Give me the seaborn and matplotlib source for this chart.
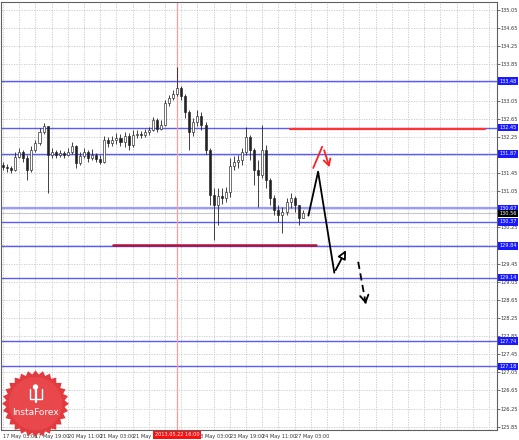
import numpy as np
import matplotlib
matplotlib.use("Agg")
import matplotlib.pyplot as plt
import matplotlib.transforms as mtransforms
import seaborn as sns

# --- candles (2h each, from 17 May 03:00) ---
opens_first = 131.63
closes = [131.59, 131.56, 131.52, 131.81, 131.92, 131.79, 131.52, 131.96, 132.12, 132.36,
          132.49, 131.85, 131.92, 131.85, 131.90, 131.85, 131.92, 132.05, 131.67, 131.83,
          131.92, 131.79, 131.85, 131.76, 131.70, 132.18, 132.12, 132.18, 132.23, 132.14,
          132.27, 132.07, 132.29, 132.31, 132.29, 132.36, 132.40, 132.62, 132.42, 132.51,
          133.00, 133.11, 133.20, 133.33, 133.15, 132.80, 132.36, 132.58, 132.71, 132.51,
          131.96, 130.97, 130.75, 130.95, 130.90, 131.04, 131.61, 131.70, 131.74, 131.92,
          132.25, 131.96, 131.52, 131.41, 131.96, 131.30, 130.90, 130.64, 130.53, 130.59,
          130.81, 130.90, 130.75, 130.46, 130.57]
highs = [131.70, 131.65, 131.61, 131.92, 132.01, 131.96, 131.85, 132.05, 132.18, 132.45,
         132.56, 132.49, 132.01, 131.96, 131.96, 131.94, 132.01, 132.14, 132.07, 131.92,
         132.01, 131.96, 131.99, 131.90, 131.85, 132.27, 132.25, 132.27, 132.34, 132.31,
         132.36, 132.34, 132.40, 132.40, 132.38, 132.42, 132.47, 132.69, 132.67, 132.62,
         133.06, 133.17, 133.29, 133.79, 133.37, 133.20, 132.84, 132.67, 132.84, 132.80,
         132.58, 132.01, 131.12, 131.12, 131.12, 131.15, 131.79, 131.83, 131.85, 132.01,
         132.47, 132.29, 132.01, 131.74, 132.51, 132.07, 131.34, 130.97, 130.75, 130.70,
         130.90, 131.01, 130.95, 130.75, 130.64]
lows = [131.52, 131.48, 131.45, 131.50, 131.79, 131.70, 131.30, 131.48, 131.92, 132.07,
        132.31, 131.01, 131.79, 131.79, 131.81, 131.79, 131.83, 131.87, 131.56, 131.63,
        131.79, 131.70, 131.74, 131.70, 131.65, 131.67, 132.03, 132.05, 132.09, 132.05,
        132.03, 131.96, 132.03, 132.23, 132.23, 132.25, 132.29, 132.38, 132.36, 132.40,
        132.49, 132.93, 133.06, 133.15, 133.06, 132.67, 131.96, 132.27, 132.49, 132.40,
        131.87, 130.75, 129.98, 130.31, 130.77, 130.81, 130.92, 131.52, 131.56, 131.63,
        131.85, 131.74, 131.19, 130.70, 131.34, 131.12, 130.75, 130.53, 130.37, 130.13,
        130.53, 130.68, 130.59, 130.31, 130.46]

# --- levels ---
blue_levels = [133.48, 132.45, 131.87, 130.67, 130.37, 129.84, 129.14, 127.74, 127.18]
current_price = 130.56
red_level = 132.43
red_level_span = [70.9, 119.0]
purple_level = 129.86
purple_level_span = [27.1, 77.3]
event_time = 43.0
event_label = "2013.05.22 16:00"

# --- forecast arrows ---
path_t = [75.4, 77.8, 81.8, 85.0]
path_p = [130.51, 131.48, 129.25, 129.80]
dash_t = [87.7, 89.7]
dash_p = [129.49, 128.50]
red_t = [76.6, 78.8, 79.1, 80.8]
red_p = [131.56, 132.03, 132.01, 131.52]

# --- axes ---
ytick_vals = [135.05, 134.65, 134.25, 133.85, 133.45, 133.05, 132.65, 132.25, 131.85,
              131.45, 131.05, 130.65, 130.25, 129.85, 129.45, 129.05, 128.65, 128.25,
              127.85, 127.45, 127.05, 126.65, 126.25, 125.85]
xtick_pos = [0, 8, 16, 24, 32, 48, 56, 64, 72]
xtick_labels = ["17 May 03:00", "17 May 19:00", "20 May 11:00", "21 May 03:00",
                "21 May 19:00", "23 May 03:00", "23 May 19:00", "24 May 11:00",
                "27 May 03:00"]

FS = 3.6

sns.set_style("white")
plt.rcParams["font.family"] = ["DejaVu Sans"]

fig = plt.figure(figsize=(5.19, 4.40), dpi=100)
ax = fig.add_axes([0.002, 0.023, 0.955, 0.973])
ax.set_xlim(-0.5, 121.9)
ax.set_ylim(125.78, 135.23)

# grid
for gx in range(0, 124, 4):
    ax.axvline(gx, color="#c8c8c8", lw=0.6, ls=(0, (1.5, 1.5)), zorder=0)
for gy in ytick_vals:
    ax.axhline(gy, color="#c8c8c8", lw=0.6, ls=(0, (1.5, 1.5)), zorder=0)

# levels
for lv in blue_levels:
    lw = 1.6 if lv == 130.67 else 1.0
    col = "#9a9aff" if lv == 130.67 else "#5a5aff"
    ax.axhline(lv, color=col, lw=lw, zorder=1)
ax.axhline(current_price, color="#c8c8c8", lw=0.8, zorder=1)
ax.plot(red_level_span, [red_level, red_level], color="#ff3333", lw=1.6, zorder=2)
ax.plot(purple_level_span, [purple_level, purple_level], color="#b0103a", lw=1.8, zorder=2)
ax.axvline(event_time, color="#ff9a9a", lw=0.9, zorder=1)

# candles
opens = [opens_first] + closes[:-1]
idx = np.arange(len(closes))
ax.vlines(idx, lows, highs, color="#222222", lw=0.6, zorder=3)
for i, (o, c) in enumerate(zip(opens, closes)):
    up = c >= o
    ax.bar(i, max(abs(c - o), 0.01), bottom=min(o, c), width=0.5,
           color="white" if up else "#222222", edgecolor="#222222", lw=0.45, zorder=4)

# forecast path
sns.lineplot(x=path_t[:3], y=path_p[:3], sort=False, color="black", lw=1.3, ax=ax, zorder=5)
ax.annotate("", xy=(path_t[3], path_p[3]), xytext=(path_t[2], path_p[2]),
            arrowprops=dict(arrowstyle="-|>,head_length=0.5,head_width=0.25", color="black",
                            lw=1.3, fc="white"), zorder=5)
ax.plot(dash_t, dash_p, color="black", lw=1.3, ls=(0, (4, 2.5)), zorder=5)
ax.annotate("", xy=(dash_t[1], dash_p[1]), xytext=(dash_t[1] - 0.4, dash_p[1] + 0.2),
            arrowprops=dict(arrowstyle="->,head_length=0.5,head_width=0.3", color="black",
                            lw=1.3), zorder=5)
ax.plot(red_t[:2], red_p[:2], color="#ff2020", lw=1.3, zorder=5)
ax.annotate("", xy=(red_t[3], red_p[3]), xytext=(red_t[2], red_p[2]),
            arrowprops=dict(arrowstyle="->,head_length=0.45,head_width=0.25", color="#ff2020",
                            lw=1.3), zorder=5)

# axes styling
for s in ax.spines.values():
    s.set_color("#606060")
    s.set_linewidth(0.8)
ax.yaxis.tick_right()
ax.set_yticks(ytick_vals)
ax.set_yticklabels([f"{v:.2f}" for v in ytick_vals])
ax.set_xticks(xtick_pos)
ax.set_xticklabels(xtick_labels, ha="left")
ax.tick_params(axis="both", labelsize=FS, length=2, width=0.5, pad=1, colors="#333333")
ax.set_xlabel("")
ax.set_ylabel("")

# level labels on the price scale
trans = mtransforms.blended_transform_factory(ax.transAxes, ax.transData)
for lv in blue_levels:
    ax.text(1.006, lv, f"{lv:.2f}", transform=trans, fontsize=FS, color="white",
            va="center", ha="left", zorder=10, clip_on=False,
            bbox=dict(boxstyle="square,pad=0.25", fc="#1a1aff", ec="none"))
ax.text(1.006, current_price, f"{current_price:.2f}", transform=trans, fontsize=FS,
        color="white", va="center", ha="left", zorder=10, clip_on=False,
        bbox=dict(boxstyle="square,pad=0.25", fc="black", ec="none"))

# event time label
transx = mtransforms.blended_transform_factory(ax.transData, ax.transAxes)
ax.text(event_time, -0.011, event_label, transform=transx, fontsize=FS, color="white",
        ha="center", va="center", zorder=10, clip_on=False,
        bbox=dict(boxstyle="square,pad=0.3", fc="#ff1010", ec="none"))

# logo
lax = fig.add_axes([0.5 / 519, 0.003, 70 / 519, 70 / 440])
n = 28
ang = np.linspace(0, 2 * np.pi, 2 * n, endpoint=False)
rad = np.where(np.arange(2 * n) % 2 == 0, 1.0, 0.88)
lax.fill(rad * np.cos(ang), rad * np.sin(ang), color="#e23a3f", lw=0)
lax.fill(0.8 * np.cos(ang), 0.8 * np.sin(ang), color="#e8484c", lw=0)
lax.plot([0, 0], [0.05, 0.42], color="white", lw=1.6)
lax.plot([-0.18, -0.18, 0.18, 0.18], [0.45, 0.15, 0.15, 0.45], color="white", lw=1.0)
lax.add_patch(plt.Circle((0, 0.5), 0.06, color="white"))
lax.text(0, -0.25, "InstaForex", color="white", fontsize=6.5, ha="center", va="center")
lax.set_xlim(-1.05, 1.05)
lax.set_ylim(-1.05, 1.05)
lax.set_aspect("equal")
lax.axis("off")

fig.savefig("out.png", dpi=100)
